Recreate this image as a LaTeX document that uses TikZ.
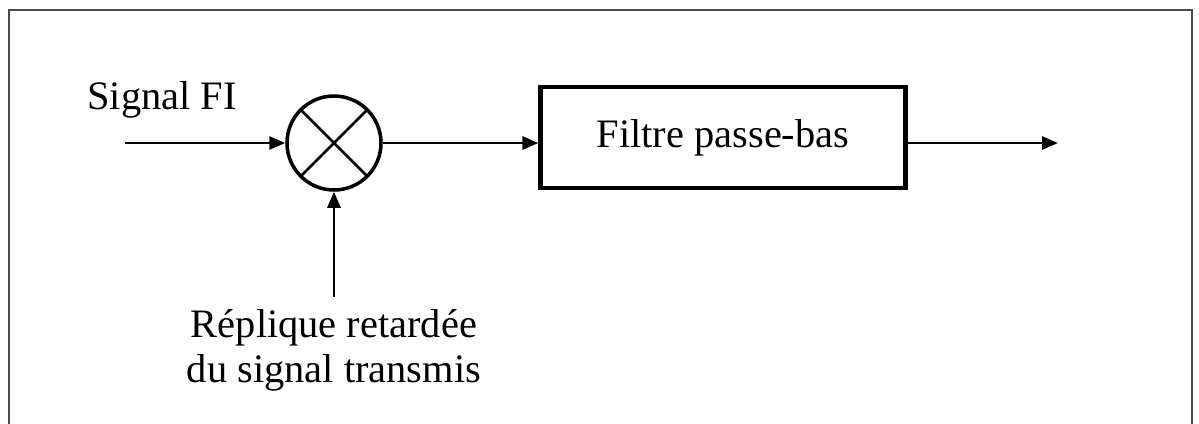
\documentclass[tikz,border=0pt]{standalone}
\usepackage{fontspec}
\setmainfont{Liberation Serif}
\usetikzlibrary{positioning,arrows.meta}

\begin{document}
\begin{tikzpicture}[x=0.02cm, y=-0.02cm,
	mixer/.style={circle, draw, line width=2pt, minimum size=1.88cm, inner sep=0pt,
		path picture={\draw[line width=1.6pt] (path picture bounding box.north west) -- (path picture bounding box.south east)
			(path picture bounding box.north east) -- (path picture bounding box.south west);}},
	block/.style={rectangle, draw, line width=2.4pt, minimum width=7.3cm, minimum height=2.02cm},
	fleche/.style={-{Triangle[length=0.32cm,width=0.26cm]}, line width=1.6pt},
	txt/.style={font=\fontsize{23}{25.6}\selectfont}
	]
	\useasboundingbox (0,0) rectangle (1199,423);
	% cadre
	\draw[gray!60!black, line width=1.2pt] (9,440) -- (9,10) -- (1192,10) -- (1192,440);
	
	\node (mix) [mixer] at (334,143) {};
	\node (filtre) [block, txt] at (723,137.5) {Filtre passe-bas};
	\coordinate (entree) at (125,143);
	\coordinate (sortie) at (1058,143);
	\coordinate (rep) at (334,297);
	\node (signal) [txt, anchor=base] at (162,109) {Signal FI};
	\node (replique) [txt, align=center, inner sep=0pt, below=0.24cm of rep] {Réplique retardée\\du signal transmis};
	
	\draw[fleche] (entree) -- (mix);
	\draw[fleche] (mix) -- (mix -| filtre.west);
	\draw[fleche] (mix -| filtre.east) -- (sortie);
	\draw[fleche] (rep) -- (mix);
\end{tikzpicture}
\end{document}
